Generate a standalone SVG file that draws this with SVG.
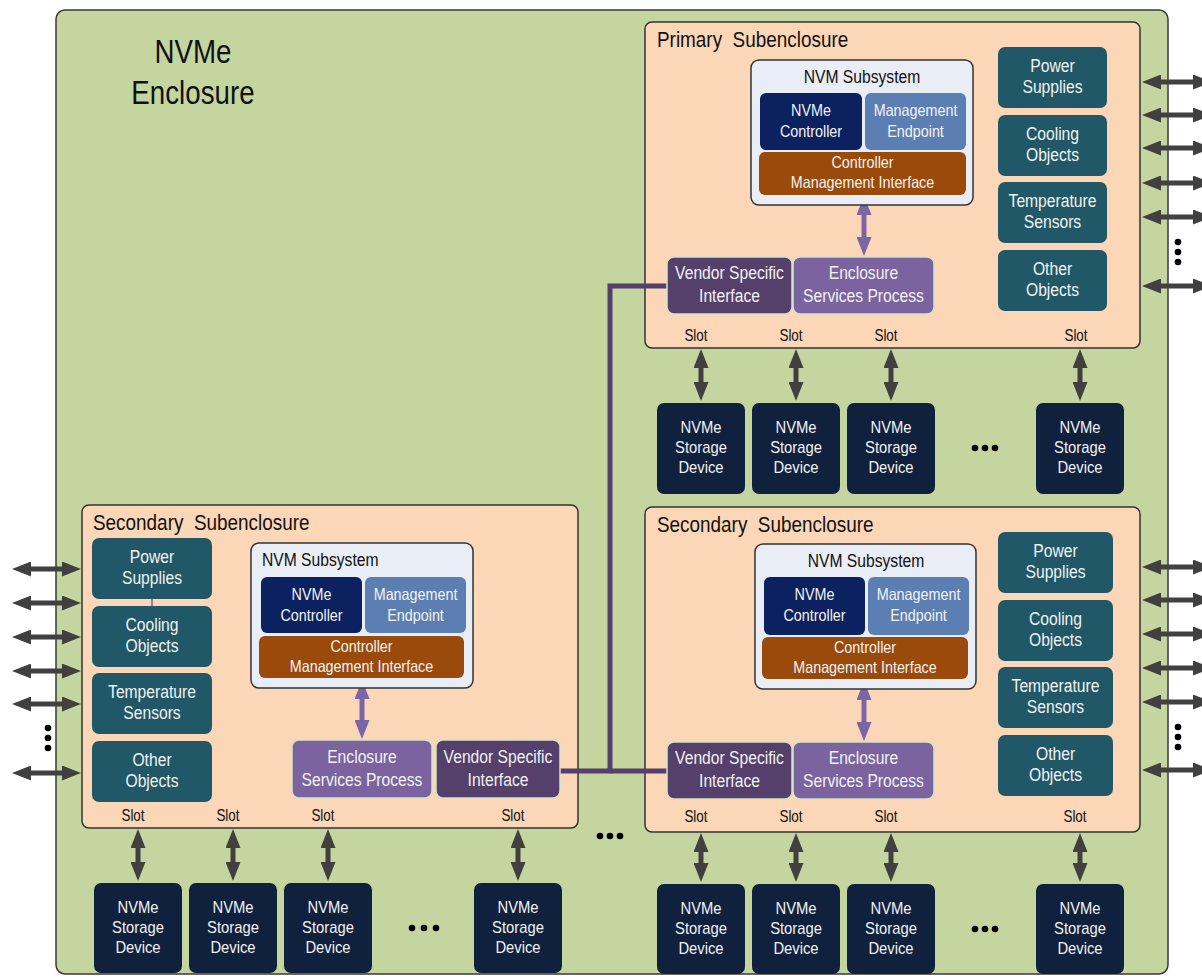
<svg xmlns="http://www.w3.org/2000/svg" width="1202" height="978" viewBox="0 0 1202 978">
<defs>
<style>
text{font-family:"Liberation Sans",Arial,sans-serif;transform-box:fill-box;transform-origin:50% 50%;transform:scaleX(0.87)}
.ls{transform-origin:0% 50%}
.big{transform:scaleX(0.84)}
.enc{fill:#c4d59f;stroke:#3a3a3a;stroke-width:1.5}
.sub{fill:#fbd6b7;stroke:#333;stroke-width:1.5}
.nvm{fill:#e9edf5;stroke:#333;stroke-width:1.5}
.ctl{fill:#0c2260}
.mep{fill:#5b7fb3}
.cmi{fill:#9a4a0a}
.vsi{fill:#553f6b;stroke:#d3e3c6;stroke-width:1.5}
.esp{fill:#7b63a0;stroke:#d3e3c6;stroke-width:1.5}
.obj{fill:#215867}
.dev{fill:#10213e}
.w{fill:#f2f2f2;text-anchor:middle}
.t16{font-size:16.5px}
.t17{font-size:17px}
.t18{font-size:18px}
.k{fill:#111}
.ttl{font-size:22px;fill:#111;transform:scaleX(0.86)}
.slot{font-size:16px;fill:#111;text-anchor:middle;transform:scaleX(0.84)}
.da{stroke:#404040;stroke-width:5;fill:none;marker-start:url(#ah);marker-end:url(#ah)}
.pa{stroke:#7c65a3;stroke-width:5;fill:none;marker-start:url(#ap);marker-end:url(#ap)}
.vl{stroke:#553f6b;stroke-width:5;fill:none}
.dot{fill:#000}
</style>
<marker id="ah" markerUnits="userSpaceOnUse" markerWidth="19" markerHeight="15" refX="9.5" refY="7.5" orient="auto-start-reverse" viewBox="0 0 19 15"><path d="M0,0 L19,7.5 L0,15 z" fill="#404040"/></marker>
<marker id="ap" markerUnits="userSpaceOnUse" markerWidth="19" markerHeight="15" refX="9.5" refY="7.5" orient="auto-start-reverse" viewBox="0 0 19 15"><path d="M0,0 L19,7.5 L0,15 z" fill="#7c65a3"/></marker>
</defs>

<g id="enclosure">
<rect class="enc" x="56" y="10" width="1112" height="964" rx="9"/>
<text class="big" x="193" y="63" font-size="33" fill="#111" text-anchor="middle">NVMe</text>
<text class="big" x="193" y="104" font-size="33" fill="#111" text-anchor="middle">Enclosure</text>
</g>

<g id="primary-subenclosure">
<rect class="sub" x="645" y="22" width="495" height="326" rx="7"/>
<text class="ttl ls" x="657" y="47" xml:space="preserve">Primary  Subenclosure</text>
</g>
<g id="left-secondary-subenclosure">
<rect class="sub" x="82" y="505" width="496" height="323" rx="7"/>
<text class="ttl ls" x="93" y="530" xml:space="preserve">Secondary  Subenclosure</text>
</g>
<g id="right-secondary-subenclosure">
<rect class="sub" x="645" y="507" width="495" height="325" rx="7"/>
<text class="ttl ls" x="657" y="532" xml:space="preserve">Secondary  Subenclosure</text>
</g>

<g id="connectors">
<polyline class="vl" points="560,771 610,771 610,286 667,286"/>
<line class="vl" x1="610" y1="771" x2="667" y2="771"/>
<line class="pa" x1="864" y1="205.5" x2="864" y2="246.5"/>
<line class="pa" x1="362" y1="689.5" x2="362" y2="729.5"/>
<line class="pa" x1="864" y1="690.5" x2="864" y2="731.5"/>
<line class="da" x1="701" y1="358.5" x2="701" y2="391.5"/>
<line class="da" x1="796" y1="358.5" x2="796" y2="391.5"/>
<line class="da" x1="891" y1="358.5" x2="891" y2="391.5"/>
<line class="da" x1="1080" y1="358.5" x2="1080" y2="391.5"/>
<line class="da" x1="138" y1="838.5" x2="138" y2="871.5"/>
<line class="da" x1="233" y1="838.5" x2="233" y2="871.5"/>
<line class="da" x1="328" y1="838.5" x2="328" y2="871.5"/>
<line class="da" x1="518" y1="838.5" x2="518" y2="871.5"/>
<line class="da" x1="701" y1="842.5" x2="701" y2="872.5"/>
<line class="da" x1="796" y1="842.5" x2="796" y2="872.5"/>
<line class="da" x1="891" y1="842.5" x2="891" y2="872.5"/>
<line class="da" x1="1080" y1="842.5" x2="1080" y2="872.5"/>
<line class="da" x1="1151.5" y1="82" x2="1202.5" y2="82"/>
<line class="da" x1="1151.5" y1="115" x2="1202.5" y2="115"/>
<line class="da" x1="1151.5" y1="148" x2="1202.5" y2="148"/>
<line class="da" x1="1151.5" y1="183" x2="1202.5" y2="183"/>
<line class="da" x1="1151.5" y1="217" x2="1202.5" y2="217"/>
<line class="da" x1="1151.5" y1="286" x2="1202.5" y2="286"/>
<line class="da" x1="1151.5" y1="567" x2="1202.5" y2="567"/>
<line class="da" x1="1151.5" y1="600" x2="1202.5" y2="600"/>
<line class="da" x1="1151.5" y1="634" x2="1202.5" y2="634"/>
<line class="da" x1="1151.5" y1="668" x2="1202.5" y2="668"/>
<line class="da" x1="1151.5" y1="702" x2="1202.5" y2="702"/>
<line class="da" x1="1151.5" y1="770" x2="1202.5" y2="770"/>
<line class="da" x1="21.5" y1="569" x2="71.5" y2="569"/>
<line class="da" x1="21.5" y1="603" x2="71.5" y2="603"/>
<line class="da" x1="21.5" y1="637" x2="71.5" y2="637"/>
<line class="da" x1="21.5" y1="671" x2="71.5" y2="671"/>
<line class="da" x1="21.5" y1="704" x2="71.5" y2="704"/>
<line class="da" x1="21.5" y1="773" x2="71.5" y2="773"/>
<line x1="152" y1="599" x2="152" y2="606" stroke="#333" stroke-width="1"/>
</g>

<g id="ellipses">
<circle class="dot" cx="1178" cy="242" r="3.3"/><circle class="dot" cx="1178" cy="252" r="3.3"/><circle class="dot" cx="1178" cy="262" r="3.3"/>
<circle class="dot" cx="1178" cy="727" r="3.3"/><circle class="dot" cx="1178" cy="737" r="3.3"/><circle class="dot" cx="1178" cy="747" r="3.3"/>
<circle class="dot" cx="48" cy="728" r="3.3"/><circle class="dot" cx="48" cy="738" r="3.3"/><circle class="dot" cx="48" cy="748" r="3.3"/>
<circle class="dot" cx="600" cy="836" r="3.3"/><circle class="dot" cx="610" cy="836" r="3.3"/><circle class="dot" cx="620" cy="836" r="3.3"/>
<circle class="dot" cx="975" cy="448" r="3.3"/><circle class="dot" cx="985" cy="448" r="3.3"/><circle class="dot" cx="995" cy="448" r="3.3"/>
<circle class="dot" cx="412" cy="928" r="3.3"/><circle class="dot" cx="424" cy="928" r="3.3"/><circle class="dot" cx="436" cy="928" r="3.3"/>
<circle class="dot" cx="975" cy="929" r="3.3"/><circle class="dot" cx="985" cy="929" r="3.3"/><circle class="dot" cx="995" cy="929" r="3.3"/>
</g>

<g id="p-nvm"><rect class="nvm" x="751" y="60" width="222" height="145" rx="8"/><text class="k t18" x="862" y="83" text-anchor="middle">NVM Subsystem</text></g>
<g id="p-ctl"><rect class="ctl" x="760" y="93" width="102" height="57" rx="6"/><text class="w t16" x="811" y="116">NVMe</text><text class="w t16" x="811" y="137">Controller</text></g>
<g id="p-mep"><rect class="mep" x="865" y="93" width="101" height="57" rx="6"/><text class="w t16" x="915.5" y="116">Management</text><text class="w t16" x="915.5" y="137">Endpoint</text></g>
<g id="p-cmi"><rect class="cmi" x="759" y="152" width="207" height="43" rx="6"/><text class="w t16" x="862.5" y="168">Controller</text><text class="w t16" x="862.5" y="188">Management Interface</text></g>
<g id="p-vsi"><rect class="vsi" x="667" y="257" width="125" height="57" rx="7"/><text class="w t18" x="729.5" y="279">Vendor Specific</text><text class="w t18" x="729.5" y="302">Interface</text></g>
<g id="p-esp"><rect class="esp" x="793" y="257" width="141" height="57" rx="7"/><text class="w t18" x="863.5" y="279">Enclosure</text><text class="w t18" x="863.5" y="302">Services Process</text></g>
<g id="p-power"><rect class="obj" x="998" y="47" width="109" height="61" rx="7"/><text class="w t18" x="1052.5" y="72">Power</text><text class="w t18" x="1052.5" y="93">Supplies</text></g>
<g id="p-cooling"><rect class="obj" x="998" y="115" width="109" height="61" rx="7"/><text class="w t18" x="1052.5" y="140">Cooling</text><text class="w t18" x="1052.5" y="161">Objects</text></g>
<g id="p-temp"><rect class="obj" x="998" y="182" width="109" height="61" rx="7"/><text class="w t18" x="1052.5" y="207">Temperature</text><text class="w t18" x="1052.5" y="228">Sensors</text></g>
<g id="p-other"><rect class="obj" x="998" y="250" width="109" height="61" rx="7"/><text class="w t18" x="1052.5" y="275">Other</text><text class="w t18" x="1052.5" y="296">Objects</text></g>
<g id="p-slots"><text class="slot" x="696" y="341">Slot</text><text class="slot" x="791" y="341">Slot</text><text class="slot" x="886" y="341">Slot</text><text class="slot" x="1076" y="341">Slot</text></g>
<g id="p-dev1"><rect class="dev" x="657" y="403" width="88" height="91" rx="7"/><text class="w t17" x="701" y="433">NVMe</text><text class="w t17" x="701" y="453">Storage</text><text class="w t17" x="701" y="473">Device</text></g>
<g id="p-dev2"><rect class="dev" x="752" y="403" width="88" height="91" rx="7"/><text class="w t17" x="796" y="433">NVMe</text><text class="w t17" x="796" y="453">Storage</text><text class="w t17" x="796" y="473">Device</text></g>
<g id="p-dev3"><rect class="dev" x="847" y="403" width="88" height="91" rx="7"/><text class="w t17" x="891" y="433">NVMe</text><text class="w t17" x="891" y="453">Storage</text><text class="w t17" x="891" y="473">Device</text></g>
<g id="p-dev4"><rect class="dev" x="1036" y="403" width="88" height="91" rx="7"/><text class="w t17" x="1080" y="433">NVMe</text><text class="w t17" x="1080" y="453">Storage</text><text class="w t17" x="1080" y="473">Device</text></g>

<g id="l-nvm"><rect class="nvm" x="251" y="543" width="222" height="145" rx="8"/><text class="k t18 ls" x="262" y="566">NVM Subsystem</text></g>
<g id="l-ctl"><rect class="ctl" x="261" y="577" width="101" height="56" rx="6"/><text class="w t16" x="311.5" y="600">NVMe</text><text class="w t16" x="311.5" y="621">Controller</text></g>
<g id="l-mep"><rect class="mep" x="365" y="577" width="101" height="56" rx="6"/><text class="w t16" x="415.5" y="600">Management</text><text class="w t16" x="415.5" y="621">Endpoint</text></g>
<g id="l-cmi"><rect class="cmi" x="259" y="636" width="205" height="42" rx="6"/><text class="w t16" x="361.5" y="652">Controller</text><text class="w t16" x="361.5" y="672">Management Interface</text></g>
<g id="l-esp"><rect class="esp" x="292" y="740" width="140" height="58" rx="7"/><text class="w t18" x="362" y="763">Enclosure</text><text class="w t18" x="362" y="786">Services Process</text></g>
<g id="l-vsi"><rect class="vsi" x="436" y="740" width="124" height="58" rx="7"/><text class="w t18" x="498" y="763">Vendor Specific</text><text class="w t18" x="498" y="786">Interface</text></g>
<g id="l-power"><rect class="obj" x="92" y="538" width="120" height="61" rx="7"/><text class="w t18" x="152" y="563">Power</text><text class="w t18" x="152" y="584">Supplies</text></g>
<g id="l-cooling"><rect class="obj" x="92" y="606" width="120" height="61" rx="7"/><text class="w t18" x="152" y="631">Cooling</text><text class="w t18" x="152" y="652">Objects</text></g>
<g id="l-temp"><rect class="obj" x="92" y="673" width="120" height="61" rx="7"/><text class="w t18" x="152" y="698">Temperature</text><text class="w t18" x="152" y="719">Sensors</text></g>
<g id="l-other"><rect class="obj" x="92" y="741" width="120" height="61" rx="7"/><text class="w t18" x="152" y="766">Other</text><text class="w t18" x="152" y="787">Objects</text></g>
<g id="l-slots"><text class="slot" x="133" y="821">Slot</text><text class="slot" x="228" y="821">Slot</text><text class="slot" x="323" y="821">Slot</text><text class="slot" x="513" y="821">Slot</text></g>
<g id="l-dev1"><rect class="dev" x="94" y="883" width="88" height="90" rx="7"/><text class="w t17" x="138" y="913">NVMe</text><text class="w t17" x="138" y="933">Storage</text><text class="w t17" x="138" y="953">Device</text></g>
<g id="l-dev2"><rect class="dev" x="189" y="883" width="88" height="90" rx="7"/><text class="w t17" x="233" y="913">NVMe</text><text class="w t17" x="233" y="933">Storage</text><text class="w t17" x="233" y="953">Device</text></g>
<g id="l-dev3"><rect class="dev" x="284" y="883" width="88" height="90" rx="7"/><text class="w t17" x="328" y="913">NVMe</text><text class="w t17" x="328" y="933">Storage</text><text class="w t17" x="328" y="953">Device</text></g>
<g id="l-dev4"><rect class="dev" x="474" y="883" width="88" height="90" rx="7"/><text class="w t17" x="518" y="913">NVMe</text><text class="w t17" x="518" y="933">Storage</text><text class="w t17" x="518" y="953">Device</text></g>

<g id="r-nvm"><rect class="nvm" x="755" y="544" width="221" height="145" rx="8"/><text class="k t18" x="866" y="567" text-anchor="middle">NVM Subsystem</text></g>
<g id="r-ctl"><rect class="ctl" x="764" y="577" width="101" height="58" rx="6"/><text class="w t16" x="814.5" y="600">NVMe</text><text class="w t16" x="814.5" y="621">Controller</text></g>
<g id="r-mep"><rect class="mep" x="868" y="577" width="101" height="58" rx="6"/><text class="w t16" x="918.5" y="600">Management</text><text class="w t16" x="918.5" y="621">Endpoint</text></g>
<g id="r-cmi"><rect class="cmi" x="762" y="637" width="206" height="42" rx="6"/><text class="w t16" x="865" y="653">Controller</text><text class="w t16" x="865" y="673">Management Interface</text></g>
<g id="r-vsi"><rect class="vsi" x="667" y="742" width="125" height="57" rx="7"/><text class="w t18" x="729.5" y="764">Vendor Specific</text><text class="w t18" x="729.5" y="787">Interface</text></g>
<g id="r-esp"><rect class="esp" x="793" y="742" width="141" height="57" rx="7"/><text class="w t18" x="863.5" y="764">Enclosure</text><text class="w t18" x="863.5" y="787">Services Process</text></g>
<g id="r-power"><rect class="obj" x="998" y="532" width="115" height="61" rx="7"/><text class="w t18" x="1055.5" y="557">Power</text><text class="w t18" x="1055.5" y="578">Supplies</text></g>
<g id="r-cooling"><rect class="obj" x="998" y="600" width="115" height="61" rx="7"/><text class="w t18" x="1055.5" y="625">Cooling</text><text class="w t18" x="1055.5" y="646">Objects</text></g>
<g id="r-temp"><rect class="obj" x="998" y="667" width="115" height="61" rx="7"/><text class="w t18" x="1055.5" y="692">Temperature</text><text class="w t18" x="1055.5" y="713">Sensors</text></g>
<g id="r-other"><rect class="obj" x="998" y="735" width="115" height="61" rx="7"/><text class="w t18" x="1055.5" y="760">Other</text><text class="w t18" x="1055.5" y="781">Objects</text></g>
<g id="r-slots"><text class="slot" x="696" y="822">Slot</text><text class="slot" x="791" y="822">Slot</text><text class="slot" x="886" y="822">Slot</text><text class="slot" x="1075" y="822">Slot</text></g>
<g id="r-dev1"><rect class="dev" x="657" y="884" width="88" height="90" rx="7"/><text class="w t17" x="701" y="914">NVMe</text><text class="w t17" x="701" y="934">Storage</text><text class="w t17" x="701" y="954">Device</text></g>
<g id="r-dev2"><rect class="dev" x="752" y="884" width="88" height="90" rx="7"/><text class="w t17" x="796" y="914">NVMe</text><text class="w t17" x="796" y="934">Storage</text><text class="w t17" x="796" y="954">Device</text></g>
<g id="r-dev3"><rect class="dev" x="847" y="884" width="88" height="90" rx="7"/><text class="w t17" x="891" y="914">NVMe</text><text class="w t17" x="891" y="934">Storage</text><text class="w t17" x="891" y="954">Device</text></g>
<g id="r-dev4"><rect class="dev" x="1036" y="884" width="88" height="90" rx="7"/><text class="w t17" x="1080" y="914">NVMe</text><text class="w t17" x="1080" y="934">Storage</text><text class="w t17" x="1080" y="954">Device</text></g>
</svg>
